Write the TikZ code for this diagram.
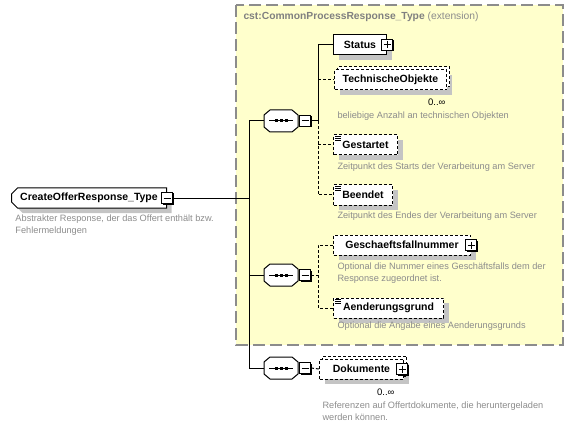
\documentclass[tikz,border=0pt]{standalone}
\usepackage{fontspec}
\setmainfont{Liberation Sans}
\usetikzlibrary{shapes.misc,shadows}
\definecolor{extfill}{HTML}{FFFFCC}
\definecolor{extline}{HTML}{8C8C8C}
\definecolor{desctext}{HTML}{8C8C8C}
\definecolor{shadegray}{HTML}{C4C4C4}
\tikzset{
  elem/.style={draw, fill=white, anchor=west, minimum height=20pt, inner sep=0pt,
    font=\fontsize{10.5}{12}\selectfont\bfseries,
    drop shadow={shadow xshift=5pt, shadow yshift=-5pt, fill=shadegray, opacity=1}},
  opt/.style={dash pattern=on 3pt off 2pt},
  optelem/.style={elem, opt},
  manyelem/.style={optelem, copy shadow={shadow xshift=3pt, shadow yshift=3pt, opt}},
  rootbox/.style={elem, chamfered rectangle, chamfered rectangle corners={north west,south west},
    chamfered rectangle xsep=3pt, chamfered rectangle ysep=3pt},
  seqbox/.style={minimum width=33pt, minimum height=21pt, inner sep=0pt, anchor=west},
  pmbox/.style={draw, fill=white, minimum size=11pt, inner sep=0pt,
    drop shadow={shadow xshift=1pt, shadow yshift=-1pt, fill=black, opacity=1}},
  minusbox/.style={pmbox, path picture={
    \draw ([xshift=2pt]path picture bounding box.west) -- ([xshift=-2pt]path picture bounding box.east);}},
  plusbox/.style={pmbox, path picture={
    \draw ([xshift=2pt]path picture bounding box.west) -- ([xshift=-2pt]path picture bounding box.east);
    \draw ([yshift=-2pt]path picture bounding box.north) -- ([yshift=2pt]path picture bounding box.south);}},
  desc/.style={anchor=north west, inner sep=0pt, align=left, text=desctext,
    font=\fontsize{9.2}{12}\selectfont},
  card/.style={anchor=east, inner sep=0pt, font=\fontsize{9.5}{11}\selectfont}
}
\newcommand\octpath[1]{([xshift=6pt]#1.north west) -- ([xshift=-6pt]#1.north east)
  -- ([yshift=-5pt]#1.north east) -- ([yshift=5pt]#1.south east) -- ([xshift=-6pt]#1.south east)
  -- ([xshift=6pt]#1.south west) -- ([yshift=5pt]#1.south west) -- ([yshift=-5pt]#1.north west) -- cycle}
\begin{document}
\begin{tikzpicture}[x=1pt,y=-1pt,line width=1pt]
\useasboundingbox (0,0) rectangle (574,428);
% extension frame
\draw[extline, fill=extfill, line width=1.5pt, dash pattern=on 12pt off 5pt] (236,5) rectangle (563,345);
\node[anchor=west, inner sep=0pt, font=\fontsize{10.3}{12}\selectfont] (exttitle) at (243,17)
  {\textcolor{gray}{\bfseries cst:CommonProcessResponse\_Type} \textcolor{desctext}{(extension)}};
% root
\node[rootbox, minimum width=155pt] (root) at (11,198) {CreateOfferResponse\_Type};
\node[minusbox] (rootm) at (root.east) {};
\node[desc] (rootd) at (15,214) {Abstrakter Response, der das Offert enthält bzw.\\Fehlermeldungen};
% sequences
\node[seqbox] (s1) at (264,121) {};
\node[seqbox] (s2) at (264,275) {};
\node[seqbox] (s3) at (264,368) {};
\foreach \s in {s1,s2,s3} {
  \fill[shadegray, shift={(5,5)}] \octpath{\s};
  \filldraw[fill=white] \octpath{\s};
  \draw ([xshift=5pt]\s.west) -- ([xshift=-5pt]\s.east);
  \foreach \d in {-5,0,5}
    \fill ([xshift=\d pt]\s.center) ++(-1.5,-1.5) rectangle ++(3,3);
}
\node[minusbox, anchor=west] (s1m) at ([xshift=1pt]s1.east) {};
\node[minusbox, anchor=west] (s2m) at ([xshift=1pt]s2.east) {};
\node[minusbox, anchor=west] (s3m) at ([xshift=1pt]s3.east) {};
% elements
\node[elem, minimum width=53pt] (status) at (333,45) {Status};
\node[plusbox] (statusp) at (status.east) {};
\node[manyelem, minimum width=112pt] (tob) at (334,80) {TechnischeObjekte};
\node[card] (tobc) at (446,102) {0..∞};
\node[desc] (tobd) at (337,111) {beliebige Anzahl an technischen Objekten};
\node[optelem, minimum width=64pt] (gst) at (333,145) {Gestartet};
\node[desc] (gstd) at (337,162) {Zeitpunkt des Starts der Verarbeitung am Server};
\node[optelem, minimum width=59pt] (bend) at (333,195) {Beendet};
\node[desc] (bendd) at (337,211) {Zeitpunkt des Endes der Verarbeitung am Server};
\node[optelem, minimum width=137pt] (gfn) at (333,245) {Geschaeftsfallnummer};
\node[plusbox] (gfnp) at (gfn.east) {};
\node[desc] (gfnd) at (337,262) {Optional die Nummer eines Geschäftsfalls dem der\\Response zugeordnet ist.};
\node[optelem, minimum width=110pt] (aeg) at (333,308) {Aenderungsgrund};
\node[desc] (aegd) at (337,321) {Optional die Angabe eines Aenderungsgrunds};
\node[manyelem, minimum width=84pt] (dok) at (319,369) {Dokumente};
\node[plusbox] (dokp) at ([xshift=-2pt]dok.east) {};
\node[card] (dokc) at (395,392) {0..∞};
\node[desc] (dokd) at (322,401) {Referenzen auf Offertdokumente, die heruntergeladen\\werden können.};
% content marks
\foreach \n in {gst,bend,aeg}
  \foreach \d in {1.5,3.5,5.5}
    \draw[line width=0.8pt] ([shift={(2,\d)}]\n.north west) -- ++(6,0);
% connectors
\coordinate (trunk) at (249,0);
\coordinate (bus) at (318,0);
\draw (rootm.east) -- (rootm.east -| trunk);
\draw (s1.west -| trunk) -- (s3.west -| trunk);
\foreach \s in {s1,s2,s3}
  \draw (\s.west -| trunk) -- (\s.west);
\draw (s1m.east) -- (s1m.east -| bus) -- (status.west -| bus) -- (status.west);
\draw[opt] (s1m.east -| bus) -- (bend.west -| bus) -- (bend.west);
\draw[opt] (tob.west -| bus) -- (tob.west);
\draw[opt] (gst.west -| bus) -- (gst.west);
\draw[opt] (s2m.east) -- (s2m.east -| bus);
\draw[opt] (gfn.west) -- (gfn.west -| bus) -- (aeg.west -| bus) -- (aeg.west);
\draw[opt] (s3m.east) -- (dok.west);
\end{tikzpicture}
\end{document}
